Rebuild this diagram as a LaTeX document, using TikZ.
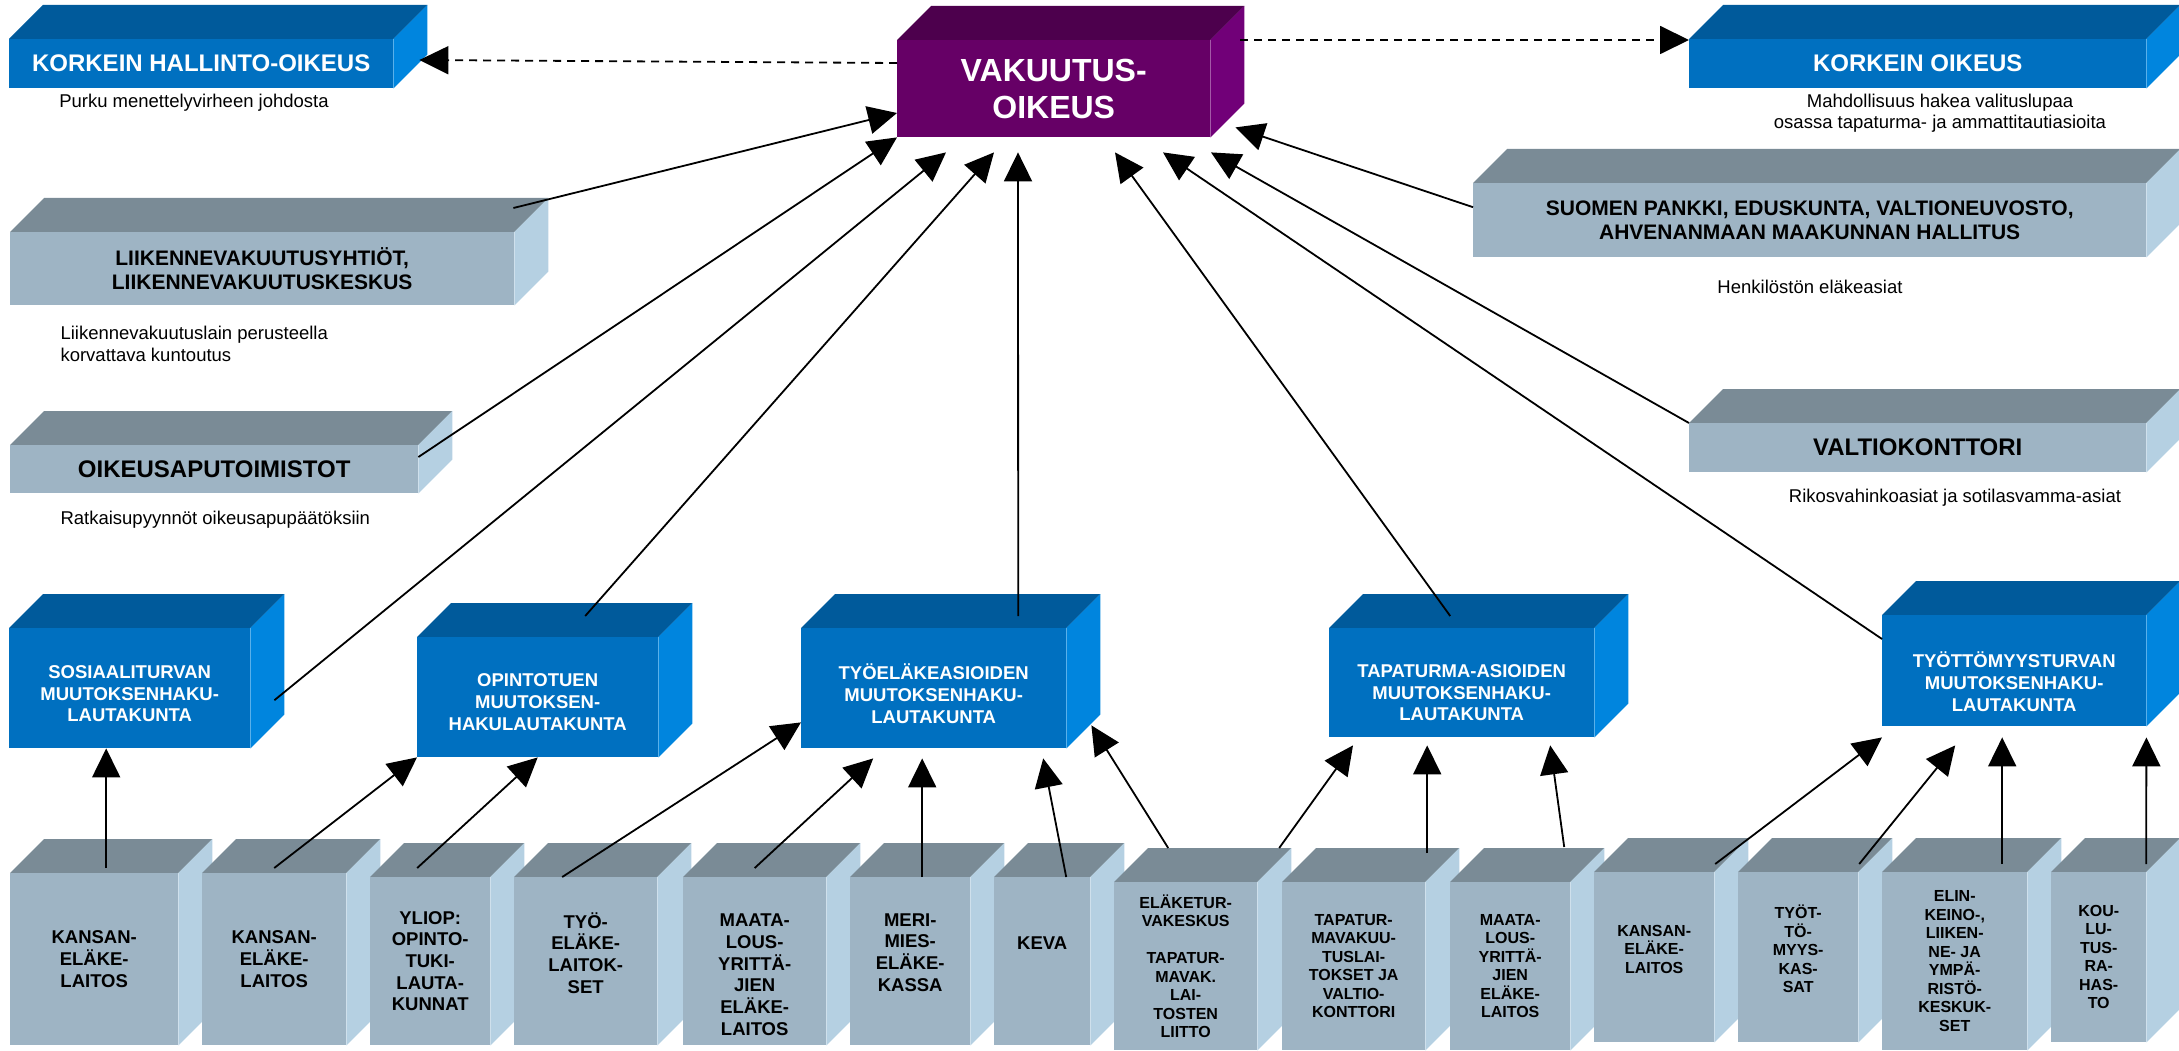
\documentclass[tikz,border=0pt]{standalone}
\usepackage{fontspec}
\setmainfont{Liberation Sans}
\usetikzlibrary{arrows.meta,backgrounds}
\definecolor{frontblue}{RGB}{0,112,192}
\definecolor{topblue}{RGB}{0,90,155}
\definecolor{sideblue}{RGB}{0,133,222}
\definecolor{frontgrey}{RGB}{158,180,196}
\definecolor{topgrey}{RGB}{122,139,150}
\definecolor{sidegrey}{RGB}{181,208,226}
\definecolor{frontvak}{RGB}{102,0,102}
\definecolor{topvak}{RGB}{77,0,77}
\definecolor{sidevak}{RGB}{113,0,120}

\begin{document}
\begin{tikzpicture}[x=1pt, y=-1pt,
    box/.style={anchor=north west, inner sep=0pt, align=center},
    bluebox/.style={box, fill=frontblue, text=white},
    greybox/.style={box, fill=frontgrey, text=black},
    fnta/.style={font=\fontsize{24}{28}\selectfont\bfseries},
    fntb/.style={font=\fontsize{21}{24}\selectfont\bfseries},
    fntc/.style={font=\fontsize{18.5}{21.7}\selectfont\bfseries},
    fntd/.style={font=\fontsize{16}{18.5}\selectfont\bfseries},
    note/.style={font=\fontsize{18.5}{21.5}\selectfont, align=center},
    arr/.style={line width=1.8pt, -{Triangle[length=29pt,width=28pt]}},
    dasharr/.style={arr, dash pattern=on 8pt off 6pt}]
    \useasboundingbox (0,0) rectangle (2179,1051);

    \node[box, fill=frontvak, text=white, font=\fontsize{32}{37}\selectfont\bfseries, minimum width=313pt, minimum height=97pt] (vak) at (897,40) {VAKUUTUS-\\OIKEUS};
    \node[bluebox, fnta, minimum width=384pt, minimum height=49pt] (kho) at (9,39) {KORKEIN HALLINTO-OIKEUS};
    \node[bluebox, fnta, minimum width=457pt, minimum height=49pt] (ko) at (1689,39) {KORKEIN OIKEUS};
    \node[greybox, fntb, minimum width=504pt, minimum height=73pt] (lii) at (10,232) {LIIKENNEVAKUUTUSYHTIÖT,\\LIIKENNEVAKUUTUSKESKUS};
    \node[greybox, fnta, minimum width=408pt, minimum height=48pt] (oik) at (10,445) {OIKEUSAPUTOIMISTOT};
    \node[greybox, fntb, minimum width=673pt, minimum height=74pt] (suo) at (1473,183) {SUOMEN PANKKI, EDUSKUNTA, VALTIONEUVOSTO,\\AHVENANMAAN MAAKUNNAN HALLITUS};
    \node[greybox, fnta, minimum width=457pt, minimum height=49pt] (val) at (1689,423) {VALTIOKONTTORI};

    \node[note] (khonote) at (194,103) {Purku menettelyvirheen johdosta};
    \node[note, font=\fontsize{18.5}{21}\selectfont] (konote) at (1940,113.5) {Mahdollisuus hakea valituslupaa\\osassa tapaturma- ja ammattitautiasioita};
    \node[note] (suonote) at (1810,287) {Henkilöstön eläkeasiat};
    \node[note, anchor=west, align=left] (liinote) at (57,344) {Liikennevakuutuslain perusteella\\korvattava kuntoutus};
    \node[note, anchor=west] (oiknote) at (57,520) {Ratkaisupyynnöt oikeusapupäätöksiin};
    \node[note] (valnote) at (1955,498) {Rikosvahinkoasiat ja sotilasvamma-asiat};

    \node[bluebox, fntc, minimum width=241pt, minimum height=120pt, text height=67pt, text depth=0pt] (sos) at (9,628) {SOSIAALITURVAN\\MUUTOKSENHAKU-\\LAUTAKUNTA};
    \node[bluebox, fntc, minimum width=241pt, minimum height=120pt, text height=66pt, text depth=0pt] (opi) at (417,637) {OPINTOTUEN\\MUUTOKSEN-\\HAKULAUTAKUNTA};
    \node[bluebox, fntc, minimum width=265pt, minimum height=120pt, text height=70pt, text depth=0pt] (tyoe) at (801,628) {TYÖELÄKEASIOIDEN\\MUUTOKSENHAKU-\\LAUTAKUNTA};
    \node[bluebox, fntc, minimum width=265pt, minimum height=109pt, text height=76pt, text depth=0pt] (tap) at (1329,628) {TAPATURMA-ASIOIDEN\\MUUTOKSENHAKU-\\LAUTAKUNTA};
    \node[bluebox, fntc, minimum width=264pt, minimum height=111pt, text height=81pt, text depth=0pt] (tyot) at (1882,615) {TYÖTTÖMYYSTURVAN\\MUUTOKSENHAKU-\\LAUTAKUNTA};

    \node[greybox, fntc, minimum width=168pt, minimum height=172pt] (kela1) at (10,873) {KANSAN-\\ELÄKE-\\LAITOS};
    \node[greybox, fntc, minimum width=144pt, minimum height=172pt] (kela2) at (202,873) {KANSAN-\\ELÄKE-\\LAITOS};
    \node[greybox, fntc, minimum width=120pt, minimum height=168pt] (yliop) at (370,877) {YLIOP:\\OPINTO-\\TUKI-\\LAUTA-\\KUNNAT};
    \node[greybox, fntc, minimum width=143pt, minimum height=168pt, text depth=17pt] (tyoel) at (514,877) {TYÖ-\\ELÄKE-\\LAITOK-\\SET};
    \node[greybox, fntc, minimum width=143pt, minimum height=168pt, text height=148pt, text depth=0pt] (maa1) at (683,877) {MAATA-\\LOUS-\\YRITTÄ-\\JIEN\\ELÄKE-\\LAITOS};
    \node[greybox, fntc, minimum width=120pt, minimum height=168pt, text depth=18pt] (meri) at (850,877) {MERI-\\MIES-\\ELÄKE-\\KASSA};
    \node[greybox, fntc, minimum width=96pt, minimum height=168pt, text depth=36pt] (keva) at (994,877) {KEVA};
    \node[greybox, fntd, minimum width=143pt, minimum height=168pt] (etk) at (1114,882) {ELÄKETUR-\\VAKESKUS\\[18.5pt]TAPATUR-\\MAVAK.\\LAI-\\TOSTEN\\LIITTO};
    \node[greybox, fntd, minimum width=143pt, minimum height=168pt] (tvl) at (1282,882) {TAPATUR-\\MAVAKUU-\\TUSLAI-\\TOKSET JA\\VALTIO-\\KONTTORI};
    \node[greybox, fntd, minimum width=120pt, minimum height=168pt] (maa2) at (1450,882) {MAATA-\\LOUS-\\YRITTÄ-\\JIEN\\ELÄKE-\\LAITOS};
    \node[greybox, fntd, minimum width=120pt, minimum height=170pt, text depth=16pt] (kela3) at (1594,872) {KANSAN-\\ELÄKE-\\LAITOS};
    \node[greybox, fntd, minimum width=120pt, minimum height=170pt, text depth=17pt] (kassa) at (1738,872) {TYÖT-\\TÖ-\\MYYS-\\KAS-\\SAT};
    \node[greybox, fntd, minimum width=145pt, minimum height=178pt] (ely) at (1882,872) {ELIN-\\KEINO-,\\LIIKEN-\\NE- JA\\YMPÄ-\\RISTÖ-\\KESKUK-\\SET};
    \node[greybox, fntd, minimum width=95pt, minimum height=170pt] (koulu) at (2051,872) {KOU-\\LU-\\TUS-\\RA-\\HAS-\\TO};

    % top and side faces of the boxes
    \begin{scope}[on background layer]
        \foreach \n/\c in {kho/blue, vak/vak, ko/blue, lii/grey, oik/grey, suo/grey, val/grey,
                sos/blue, opi/blue, tyoe/blue, tap/blue, tyot/blue,
                kela1/grey, kela2/grey, yliop/grey, tyoel/grey, maa1/grey, meri/grey, keva/grey,
                etk/grey, tvl/grey, maa2/grey, kela3/grey, kassa/grey, ely/grey, koulu/grey} {
            \fill[top\c] (\n.north west) -- ++(34,-34) -- ([shift={(34,-34)}]\n.north east) -- (\n.north east) -- cycle;
            \fill[side\c] (\n.north east) -- ++(34,-34) -- ([shift={(34,-34)}]\n.south east) -- (\n.south east) -- cycle;
        }
    \end{scope}

    \draw[dasharr] ([shift={(0,23)}]vak.north west) -- ([shift={(26,21)}]kho.north east);
    \draw[dasharr] ([shift={(30,0)}]vak.north east) -- ([shift={(0,1)}]ko.north west);

    \draw[arr] ([shift={(-1,-24)}]lii.north east) -- ([shift={(0,73)}]vak.north west);
    \draw[arr] ([shift={(0,12)}]oik.north east) -- (vak.south west);
    \draw[arr] ([shift={(24,12)}]sos.east) -- ([shift={(49,15)}]vak.south west);
    \draw[arr] ([shift={(47.5,-21)}]opi.north) -- ([shift={(97,15)}]vak.south west);
    \draw[arr] ([shift={(84.5,-12)}]tyoe.north) -- ([shift={(121,15)}]vak.south west);
    \draw[arr] ([shift={(-11.5,-12)}]tap.north) -- ([shift={(218,15)}]vak.south west);
    \draw[arr] ([shift={(0,24)}]tyot.north west) -- ([shift={(266,15)}]vak.south west);
    \draw[arr] (val.north west) -- ([shift={(314,15)}]vak.south west);
    \draw[arr] ([shift={(0,-13)}]suo.west) -- ([shift={(25,-10)}]vak.south east);

    \draw[arr] ([shift={(12,-5)}]kela1.north) -- ([shift={(-23.5,0)}]sos.south);
    \draw[arr] ([shift={(0,-5)}]kela2.north) -- (opi.south west);
    \draw[arr] ([shift={(-13,-9)}]yliop.north) -- (opi.south);
    \draw[arr] ([shift={(-23.5,0)}]tyoel.north) -- ([shift={(0,-26)}]tyoe.south west);
    \draw[arr] ([shift={(0,-9)}]maa1.north) -- ([shift={(-60.5,10)}]tyoe.south);
    \draw[arr] ([shift={(12,0)}]meri.north) -- ([shift={(-11.5,10)}]tyoe.south);
    \draw[arr] ([shift={(24,0)}]keva.north) -- ([shift={(109.5,10)}]tyoe.south);
    \draw[arr] ([shift={(-17.5,-34)}]etk.north) -- ([shift={(25,-23)}]tyoe.south east);
    \draw[arr] ([shift={(93.5,-34)}]etk.north) -- ([shift={(24,8)}]tap.south west);
    \draw[arr] ([shift={(73.5,-29)}]tvl.north) -- ([shift={(-34.5,8)}]tap.south);
    \draw[arr] ([shift={(54,-35)}]maa2.north) -- ([shift={(88.5,8)}]tap.south);
    \draw[arr] ([shift={(61,-8)}]kela3.north) -- ([shift={(0,11)}]tyot.south west);
    \draw[arr] ([shift={(61,-8)}]kassa.north) -- ([shift={(-59,19)}]tyot.south);
    \draw[arr] ([shift={(47.5,-8)}]ely.north) -- ([shift={(-12,11)}]tyot.south);
    \draw[arr] ([shift={(47.5,-8)}]koulu.north) -- ([shift={(0,11)}]tyot.south east);
\end{tikzpicture}
\end{document}
